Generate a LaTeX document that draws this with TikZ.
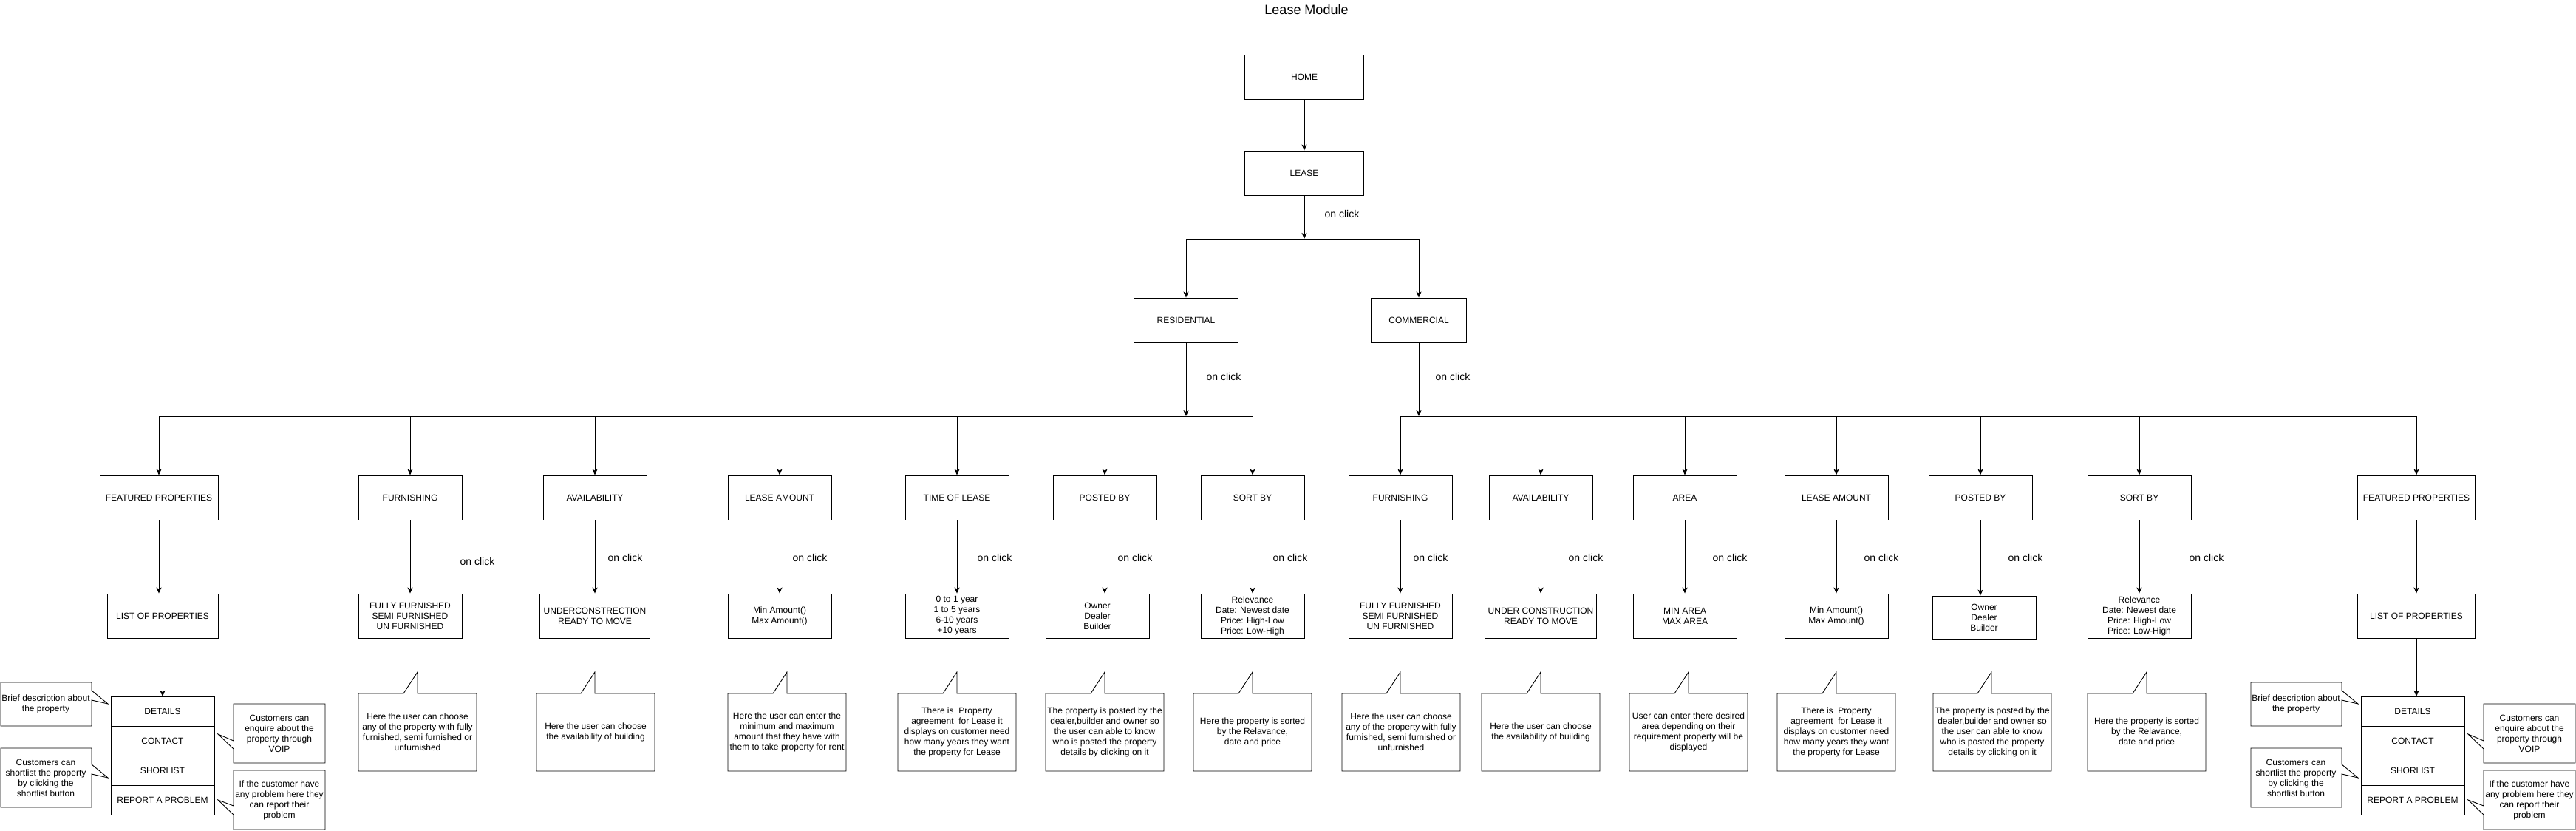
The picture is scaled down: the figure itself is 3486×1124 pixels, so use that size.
\documentclass[tikz,border=0pt]{standalone}
\usepackage{fontspec}
\setmainfont{Liberation Sans}
\usetikzlibrary{arrows.meta}

\begin{document}
\begin{tikzpicture}[x=1pt, y=-1pt,
        box/.style={draw, line width=0.9pt, minimum width=140, minimum height=60, inner sep=1pt, align=center, font=\fontsize{12}{14}\selectfont},
        row/.style={box, minimum height=40, outer sep=0pt},
        note/.style={align=center, inner sep=0pt, font=\fontsize{12}{14}\selectfont},
        link/.style={line width=0.9pt},
        arr/.style={link, -{Stealth[length=8pt, width=7pt, inset=2pt]}},
        click/.style={font=\fontsize{14}{16}\selectfont}]
        \fill[white] (0,0) rectangle (3486,1124);
        \useasboundingbox (0,0) rectangle (3486,1124);

        \node[font=\fontsize{18}{20}\selectfont] (title) at (1768,13) {Lease Module};
        \node[box, minimum width=161] (home) at (1765,104) {HOME};
        \node[box, minimum width=161] (lease) at (1765,234) {LEASE};
        \node[box, minimum width=141] (res) at (1605,433) {RESIDENTIAL};
        \node[box, minimum width=129] (com) at (1920,433) {COMMERCIAL};
        \coordinate (tbar) at (1765,323);
        \coordinate (rbar) at (1605,563);
        \coordinate (cbar) at (1920,563);

        \node[box, minimum width=160] (rfeat) at (215,673) {FEATURED PROPERTIES};
        \node[box] (rfurn) at (555,673) {FURNISHING};
        \node[box] (ravail) at (805,673) {AVAILABILITY};
        \node[box] (rlease) at (1055,673) {LEASE AMOUNT};
        \node[box] (rtime) at (1295,673) {TIME OF LEASE};
        \node[box] (rpost) at (1495,673) {POSTED BY};
        \node[box] (rsort) at (1695,673) {SORT BY};
        \node[box] (cfurn) at (1895,673) {FURNISHING};
        \node[box] (cavail) at (2085,673) {AVAILABILITY};
        \node[box] (carea) at (2280,673) {AREA};
        \node[box] (clease) at (2485,673) {LEASE AMOUNT};
        \node[box] (cpost) at (2680,673) {POSTED BY};
        \node[box] (csort) at (2895,673) {SORT BY};
        \node[box, minimum width=159] (cfeat) at (3270,673) {FEATURED PROPERTIES};

        \node[box, minimum width=150] (rlist) at (220,833) {LIST OF PROPERTIES};
        \node[box] (rfurnopt) at (555,833) {FULLY FURNISHED\\SEMI FURNISHED\\UN FURNISHED};
        \node[box, minimum width=149] (ravailopt) at (805,833) {UNDERCONSTRECTION\\READY TO MOVE};
        \node[box] (rleaseopt) at (1055,833) {Min Amount()\\Max Amount()};
        \node[box] (rtimeopt) at (1295,833) {0 to 1 year\\1 to 5 years\\6-10 years\\+10 years};
        \node[box] (rpostopt) at (1485,833) {Owner\\Dealer\\Builder};
        \node[box] (rsortopt) at (1695,833) {Relevance\\Date: Newest date\\Price: High-Low\\Price: Low-High};
        \node[box] (cfurnopt) at (1895,833) {FULLY FURNISHED\\SEMI FURNISHED\\UN FURNISHED};
        \node[box, minimum width=151] (cavailopt) at (2085,833) {UNDER CONSTRUCTION\\READY TO MOVE};
        \node[box] (careaopt) at (2280,833) {MIN AREA\\MAX AREA};
        \node[box] (cleaseopt) at (2485,833) {Min Amount()\\Max Amount()};
        \node[box, minimum height=58] (cpostopt) at (2685,835) {Owner\\Dealer\\Builder};
        \node[box] (csortopt) at (2895,833) {Relevance\\Date: Newest date\\Price: High-Low\\Price: Low-High};
        \node[box, minimum width=159] (clist) at (3270,833) {LIST OF PROPERTIES};

        \draw[arr] (home) -- (lease);
        \draw[arr] (lease.south) -- (tbar);
        \draw[link] (res.north |- tbar) -- (com.north |- tbar);
        \draw[arr] (res.north |- tbar) -- (res.north);
        \draw[arr] (com.north |- tbar) -- (com.north);
        \draw[arr] (res.south) -- (rbar);
        \draw[arr] (com.south) -- (cbar);
        \draw[link] (rfeat.north |- rbar) -- (rsort.north |- rbar);
        \draw[link] (cfurn.north |- cbar) -- (cfeat.north |- cbar);
        \foreach \n in {rfeat, rfurn, ravail, rlease, rtime, rpost, rsort}
            \draw[arr] (\n.north |- rbar) -- (\n.north);
        \foreach \n in {cfurn, cavail, carea, clease, cpost, csort, cfeat}
            \draw[arr] (\n.north |- cbar) -- (\n.north);
        \foreach \a/\b in {rfeat/rlist, rfurn/rfurnopt, ravail/ravailopt, rlease/rleaseopt, rtime/rtimeopt, rpost/rpostopt, rsort/rsortopt, cfurn/cfurnopt, cavail/cavailopt, carea/careaopt, clease/cleaseopt, cpost/cpostopt, csort/csortopt, cfeat/clist}
            \draw[arr] (\a.south) -- (\a.south |- \b.north);

        \node[click] (leaseclick) at (1816,289) {on click};
        \node[click] (resclick) at (1656,509) {on click};
        \node[click] (comclick) at (1966,509) {on click};
        \node[click] (click0) at (646,759) {on click};
        \foreach \x [count=\i] in {846, 1096, 1346, 1536, 1746, 1936, 2146, 2341, 2546, 2741, 2986}
            \node[click] (click\i) at (\x,754) {on click};

        \foreach \lx/\px/\txt [count=\i] in {
                485/565/{Here the user can choose\\any of the property with fully\\furnished, semi furnished or\\unfurnished},
                726/805/{Here the user can choose\\the availability of building},
                985/1065/{Here the user can enter the\\minimum and maximum\\amount that they have with\\them to take property for rent},
                1215/1295/{There is~ Property\\agreement~ for Lease it\\displays on customer need\\how many years they want\\the property for Lease},
                1415/1495/{The property is posted by the\\dealer,builder and owner so\\the user can able to know\\who is posted the property\\details by clicking on it},
                1615/1695/{Here the property is sorted\\by the Relavance,\\date and price},
                1816/1895/{Here the user can choose\\any of the property with fully\\furnished, semi furnished or\\unfurnished},
                2005/2085/{Here the user can choose\\the availability of building},
                2205/2285/{User can enter there desired\\area depending on their\\requirement property will be\\displayed},
                2405/2485/{There is~ Property\\agreement~ for Lease it\\displays on customer need\\how many years they want\\the property for Lease},
                2616/2695/{The property is posted by the\\dealer,builder and owner so\\the user can able to know\\who is posted the property\\details by clicking on it},
                2825/2905/{Here the property is sorted\\by the Relavance,\\date and price}} {
            \draw[link] (\lx,938) -- (\px-19,938) -- (\px,909) -- (\px,938) -- (\lx+160,938) -- (\lx+160,1043) -- (\lx,1043) -- cycle;
            \node[note] (tip\i) at (\lx+80,990) {\txt};
        }

        \foreach \s/\dx in {r/0, c/3045} {
            \node[row] (\s det) at (220+\dx,962) {DETAILS};
            \node[row] (\s con) at (220+\dx,1002) {CONTACT};
            \node[row] (\s sho) at (220+\dx,1042) {SHORLIST};
            \node[row] (\s rep) at (220+\dx,1082) {REPORT A PROBLEM};
            \draw[arr] (\s list.south) -- (\s list.south |- \s det.north);
            \draw[link] (\dx+1,923) -- (\dx+124,923) -- (\dx+124,934) -- (\dx+146,952) -- (\dx+124,947) -- (\dx+124,982) -- (\dx+1,982) -- cycle;
            \node[note] (\s brief) at (\dx+62,952) {Brief description about\\the property};
            \draw[link] (\dx+1,1012) -- (\dx+124,1012) -- (\dx+124,1034) -- (\dx+146,1052) -- (\dx+124,1047) -- (\dx+124,1092) -- (\dx+1,1092) -- cycle;
            \node[note] (\s short) at (\dx+62,1052) {Customers can\\shortlist the property\\by clicking the\\shortlist button};
            \draw[link] (\dx+316,952) -- (\dx+440,952) -- (\dx+440,1032) -- (\dx+316,1032) -- (\dx+316,1013) -- (\dx+295,993) -- (\dx+316,1002) -- cycle;
            \node[note] (\s enq) at (\dx+378,992) {Customers can\\enquire about the\\property through\\VOIP};
            \draw[link] (\dx+316,1042) -- (\dx+440,1042) -- (\dx+440,1122) -- (\dx+316,1122) -- (\dx+316,1102) -- (\dx+295,1082) -- (\dx+316,1090) -- cycle;
            \node[note] (\s prob) at (\dx+378,1082) {If the customer have\\any problem here they\\can report their\\problem};
        }
    \end{tikzpicture}
\end{document}
